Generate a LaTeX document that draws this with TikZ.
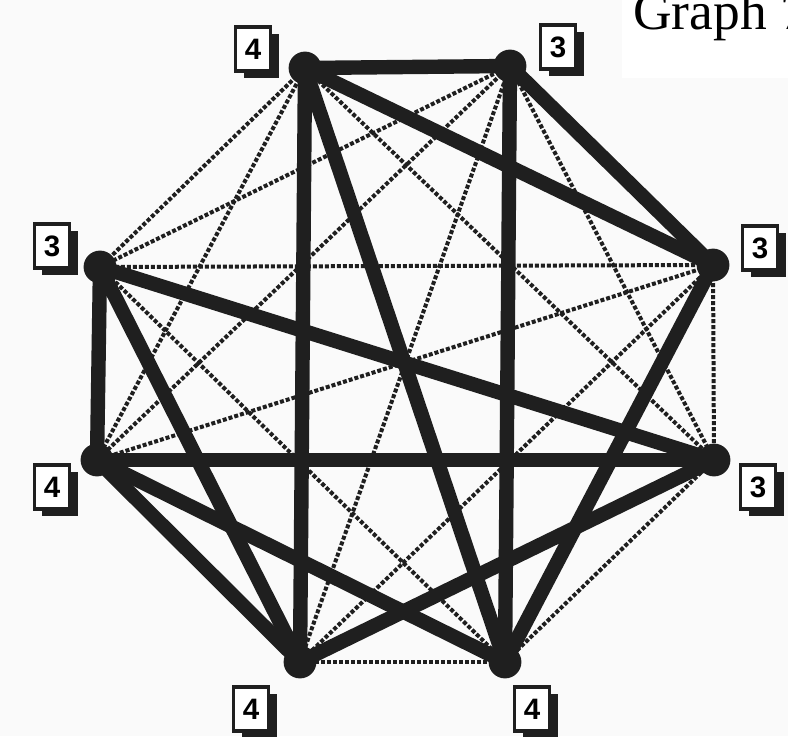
\documentclass[tikz,border=0pt]{standalone}
\usepackage{fontspec}
\setmainfont{Liberation Serif}
\newfontfamily\digitfont{Liberation Sans}
\usetikzlibrary{shadows}
\colorlet{Paper}{black!2}
\colorlet{Ink}{black!88}

\begin{document}
\begin{tikzpicture}[
    x=0.025cm,y=-0.025cm,
    vtx/.style={circle,fill=Ink,draw=none,minimum size=0.82cm,inner sep=0pt},
    heavy/.style={line width=0.36cm,Ink},
    light/.style={line width=0.1cm,Ink,dash pattern=on 0.1cm off 0.05cm},
    deg/.style={draw=Ink,line width=0.09cm,fill=white,minimum width=0.875cm,minimum height=1.1cm,inner sep=0pt,
      font=\digitfont\bfseries\fontsize{21}{21}\selectfont,
      drop shadow={shadow xshift=0.2cm,shadow yshift=-0.18cm,fill=Ink,opacity=1}}
  ]
  \useasboundingbox (0,0) rectangle (788,736);
  \clip (0,0) rectangle (788,736);
  \fill[Paper] (0,0) rectangle (788,736);

  \node[vtx] (A) at (305,68) {};
  \node[vtx] (B) at (510,66) {};
  \node[vtx] (C) at (713,265) {};
  \node[vtx] (D) at (714,460) {};
  \node[vtx] (E) at (505,662) {};
  \node[vtx] (F) at (300,662) {};
  \node[vtx] (G) at (97,460) {};
  \node[vtx] (H) at (100,267) {};

  \draw[light] (A.center) -- (D.center);
  \draw[light] (A.center) -- (G.center);
  \draw[light] (A.center) -- (H.center);
  \draw[light] (B.center) -- (D.center);
  \draw[light] (B.center) -- (F.center);
  \draw[light] (B.center) -- (G.center);
  \draw[light] (B.center) -- (H.center);
  \draw[light] (C.center) -- (D.center);
  \draw[light] (C.center) -- (F.center);
  \draw[light] (C.center) -- (G.center);
  \draw[light] (C.center) -- (H.center);
  \draw[light] (D.center) -- (E.center);
  \draw[light] (E.center) -- (F.center);
  \draw[light] (E.center) -- (H.center);

  \draw[heavy] (A.center) -- (B.center);
  \draw[heavy] (A.center) -- (F.center);
  \draw[heavy] (A.center) -- (C.center);
  \draw[heavy] (A.center) -- (E.center);
  \draw[heavy] (B.center) -- (E.center);
  \draw[heavy] (B.center) -- (C.center);
  \draw[heavy] (C.center) -- (E.center);
  \draw[heavy] (H.center) -- (D.center);
  \draw[heavy] (G.center) -- (D.center);
  \draw[heavy] (F.center) -- (D.center);
  \draw[heavy] (H.center) -- (G.center);
  \draw[heavy] (G.center) -- (F.center);
  \draw[heavy] (G.center) -- (E.center);
  \draw[heavy] (H.center) -- (F.center);

  \node[deg] (dA) at (253,49) {4};
  \node[deg] (dB) at (558,47) {3};
  \node[deg] (dC) at (760,248) {3};
  \node[deg] (dD) at (758,487) {3};
  \node[deg] (dE) at (532,709) {4};
  \node[deg] (dF) at (251,709) {4};
  \node[deg] (dG) at (52,487) {4};
  \node[deg] (dH) at (52,246) {3};

  \fill[white] (622,-5) rectangle (800,78);
  \node[anchor=base west,inner sep=0pt,font=\fontsize{38}{38}\selectfont] (title) at (633,30) {Graph 7};
\end{tikzpicture}
\end{document}
